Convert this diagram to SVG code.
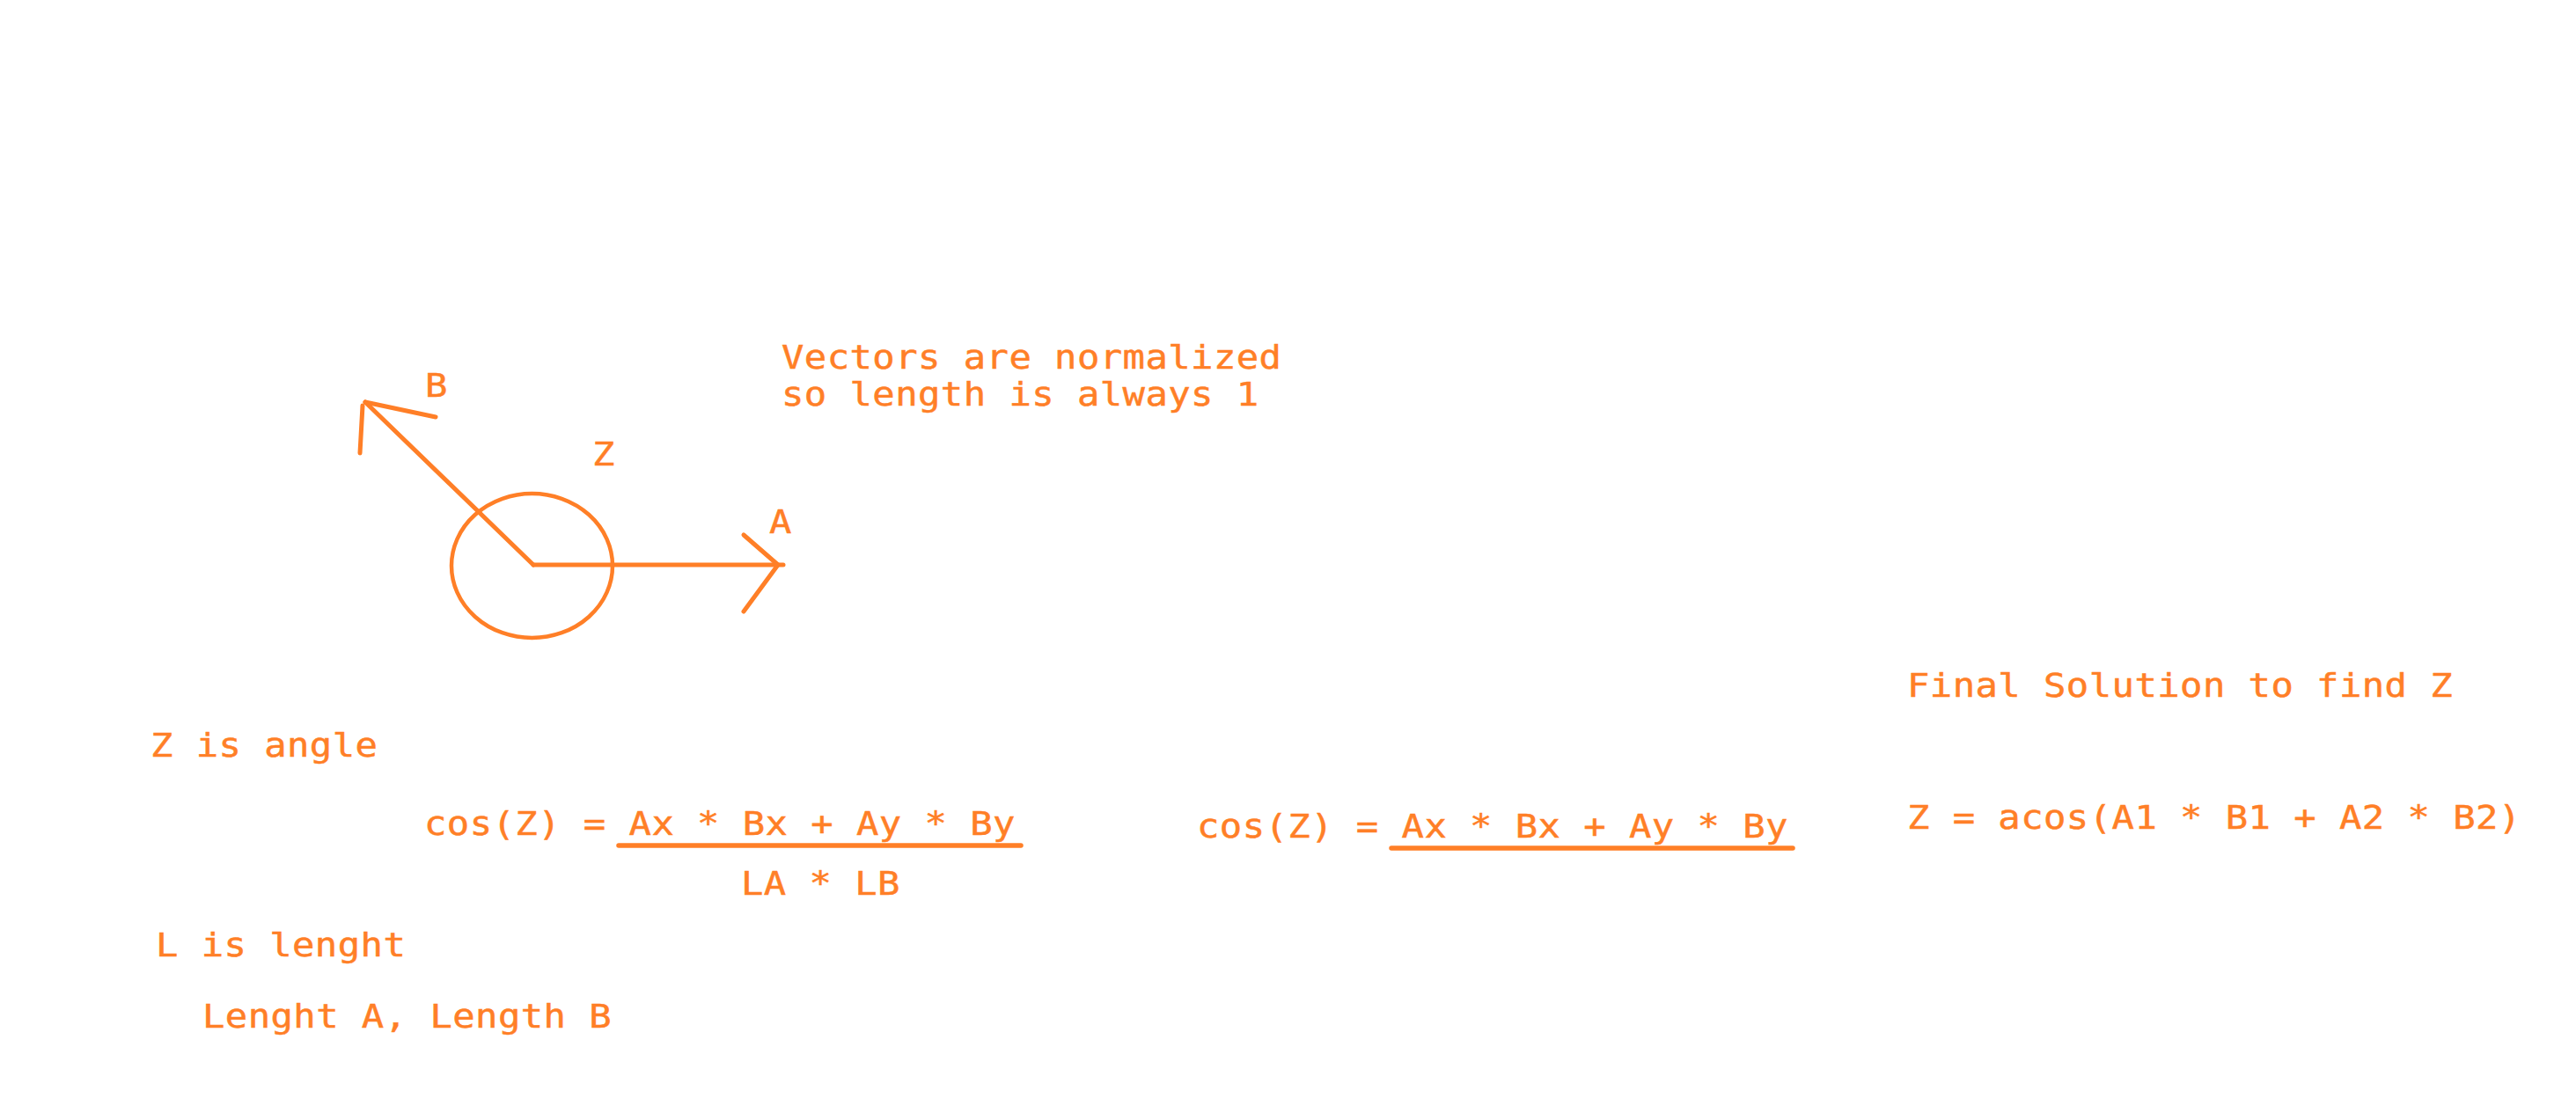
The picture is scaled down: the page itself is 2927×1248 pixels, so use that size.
<svg xmlns="http://www.w3.org/2000/svg" width="2927" height="1248" viewBox="0 0 2927 1248">
<style>
.t{font-family:"DejaVu Sans Mono","Liberation Mono",monospace;font-size:37px;letter-spacing:0.4px;fill:#ff7f27;stroke:#ff7f27;stroke-width:0.5}
.s{fill:none;stroke:#ff7f27;stroke-width:5;stroke-linecap:round;stroke-linejoin:round}
.c{fill:none;stroke:#ff7f27;stroke-width:4.5}
.f{fill:none;stroke:#ff7f27;stroke-width:5.5;stroke-linecap:round}
</style>
<rect x="0" y="0" width="2927" height="1248" fill="#ffffff"/>
<g id="connectors">
<path class="s" d="M606 642 L415 457"/>
<path class="s" d="M415 457 L495 474"/>
<path class="s" d="M412 461 L409 515"/>
<path class="s" d="M606 642 L890 642"/>
<path class="s" d="M845 608 L884 642 L845 695"/>
</g>
<g id="angle-circle">
<ellipse class="c" cx="604.5" cy="643" rx="91.5" ry="82"/>
</g>
<g id="labels">
<text class="t" transform="translate(483 451) scale(1.14 1)">B</text>
<text class="t" transform="translate(673 529) scale(1.14 1)">Z</text>
<text class="t" transform="translate(874 606) scale(1.14 1)">A</text>
</g>
<g id="note">
<text class="t" transform="translate(888 419) scale(1.14 1)">Vectors are normalized</text>
<text class="t" transform="translate(888 461) scale(1.14 1)">so length is always 1</text>
</g>
<g id="definitions">
<text class="t" transform="translate(171 860) scale(1.14 1)">Z is angle</text>
<text class="t" transform="translate(177 1087) scale(1.14 1)">L is lenght</text>
<text class="t" transform="translate(230 1168) scale(1.14 1)">Lenght A, Length B</text>
</g>
<g id="formula1">
<text class="t" transform="translate(482 949) scale(1.14 1)">cos(Z) = Ax * Bx + Ay * By</text>
<path class="f" d="M703 961 L1160 961"/>
<text class="t" transform="translate(842 1017) scale(1.14 1)">LA * LB</text>
</g>
<g id="formula2">
<text class="t" transform="translate(1360 952) scale(1.14 1)">cos(Z) = Ax * Bx + Ay * By</text>
<path class="f" d="M1581 964 L2037 964"/>
</g>
<g id="solution">
<text class="t" transform="translate(2167 792) scale(1.14 1)">Final Solution to find Z</text>
<text class="t" transform="translate(2167 942) scale(1.14 1)">Z = acos(A1 * B1 + A2 * B2)</text>
</g>
</svg>
